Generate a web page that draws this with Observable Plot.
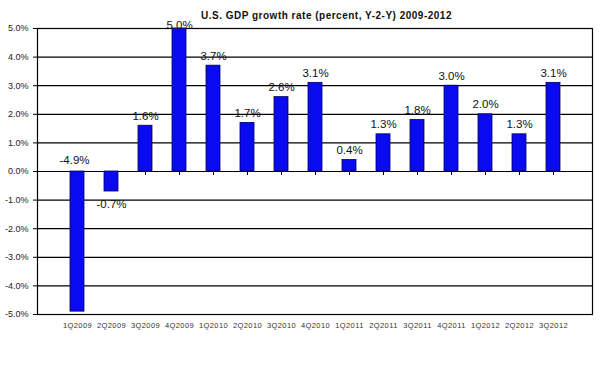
<!DOCTYPE html>
<html>
<head>
<meta charset="utf-8">
<script src="https://cdn.jsdelivr.net/npm/d3@7"></script>
<script src="https://cdn.jsdelivr.net/npm/@observablehq/plot@0.6"></script>
<style>
  html, body { margin: 0; padding: 0; background: #fff; }
  svg { display: block; }
  .ttl text { letter-spacing: 0.5px; }
  .xax text { letter-spacing: 0.4px; }
</style>
</head>
<body>
<div id="chart"></div>
<script>
const title = "U.S. GDP growth rate (percent, Y-2-Y) 2009-2012";
const quarters = ["1Q2009","2Q2009","3Q2009","4Q2009","1Q2010","2Q2010","3Q2010","4Q2010",
                  "1Q2011","2Q2011","3Q2011","4Q2011","1Q2012","2Q2012","3Q2012"];
const growth = [-4.9, -0.7, 1.6, 5.0, 3.7, 1.7, 2.6, 3.1, 0.4, 1.3, 1.8, 3.0, 2.0, 1.3, 3.1];
const yTicks = [-5, -4, -3, -2, -1, 0, 1, 2, 3, 4, 5];

const data = quarters.map((q, i) => ({q, v: growth[i]}));
const fmt = v => v.toFixed(1) + "%";
const font = "Liberation Sans, Arial, sans-serif";

const chart = Plot.plot({
  width: 612,
  height: 371,
  marginLeft: 37,
  marginRight: 20,
  marginTop: 28,
  marginBottom: 57,
  style: {fontFamily: font, background: "#fff"},
  x: {domain: quarters, paddingInner: 0.6, paddingOuter: 0.81, label: null},
  y: {domain: [-5, 5], label: null},
  marks: [
    Plot.ruleY(yTicks, {stroke: "#000", strokeWidth: 1.2}),
    Plot.frame({stroke: "#000", strokeWidth: 1.2}),
    Plot.ruleX(quarters, {x: d => d, y1: 0, y2: 0, insetBottom: -4, stroke: "#000"}),
    Plot.barY(data, {x: "q", y: "v", fill: "#0a0af0", stroke: "#00005a", strokeWidth: 0.8}),
    Plot.axisY({ticks: yTicks, tickFormat: fmt, tickSize: 4, tickPadding: 5,
                fontSize: 9, fill: "#222", label: null}),
    Plot.axisX({tickSize: 0, tickPadding: 8, fontSize: 7.5, fill: "#333",
                label: null, className: "xax"}),
    // value labels, positive bars
    Plot.text(data.filter(d => d.v > 0 && d.v + 0.35 <= 5), {
      x: "q", y: "v", text: d => fmt(d.v), lineAnchor: "bottom", dy: -6,
      fontSize: 11.5, fill: "#111"}),
    // positive bar reaching the top of the frame
    Plot.text(data.filter(d => d.v > 0 && d.v + 0.35 > 5), {
      x: "q", y: d => 5, text: d => fmt(d.v), lineAnchor: "bottom", dy: 0,
      fontSize: 11.5, fill: "#111"}),
    // negative bar with room below
    Plot.text(data.filter(d => d.v <= 0 && d.v - 0.6 >= -5), {
      x: "q", y: "v", text: d => fmt(d.v), lineAnchor: "bottom", dy: 16,
      fontSize: 11.5, fill: "#111"}),
    // negative bar reaching the bottom: label above the zero line
    Plot.text(data.filter(d => d.v <= 0 && d.v - 0.6 < -5), {
      x: "q", y: d => 0, text: d => fmt(d.v), lineAnchor: "bottom", dy: -7.5, dx: -3,
      fontSize: 11.5, fill: "#111"}),
    // title
    Plot.text([title], {frameAnchor: "top", text: d => d, lineAnchor: "bottom",
      dy: -10, dx: 11.5, fontSize: 10, fontWeight: "bold", fill: "#111",
      className: "ttl"})
  ]
});
document.getElementById("chart").appendChild(chart);
</script>
</body>
</html>
